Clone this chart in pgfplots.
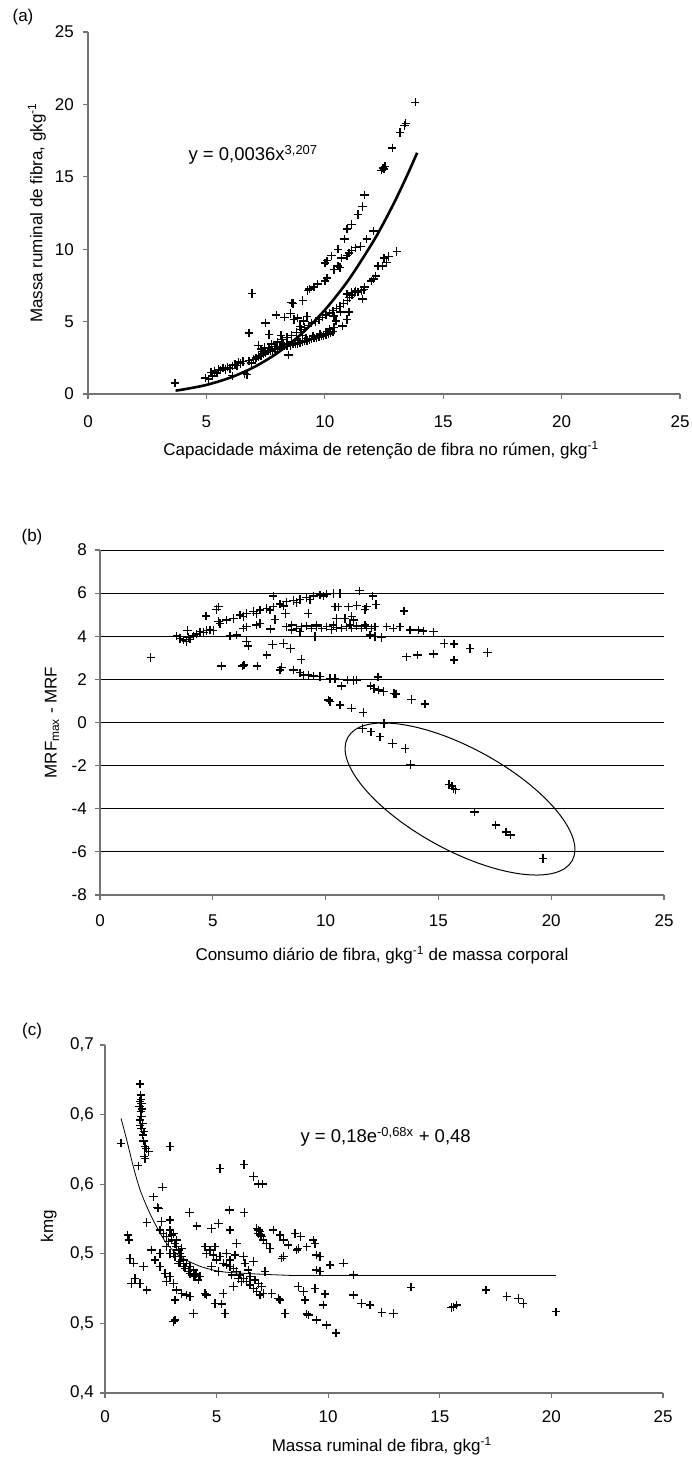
\documentclass[border=0pt]{standalone}
\usepackage{fontspec}
\setmainfont{Liberation Sans}
\usepackage{pgfplots}
\pgfplotsset{compat=1.18}
\newcommand{\tf}{\fontsize{17}{20}\selectfont}
\newcommand{\ef}{\fontsize{18.5}{21}\selectfont}
\begin{document}
\begin{tikzpicture}[x=1pt,y=1pt]
\path[use as bounding box] (0,0) rectangle (691,-1459);
\pgfplotsset{
  panel/.style={
    scale only axis, anchor=south west,
    axis lines*=left,
    axis line style={draw=black!55, line width=1.2pt},
    tick style={draw=black!55, line width=1.2pt},
    tick align=outside, major tick length=5pt,
    xmin=0, xmax=25, xtick={0,5,10,15,20,25},
    xticklabels={0,5,10,15,20,25},
    tick label style={font=\tf},
    label style={font=\tf},
    yticklabel style={anchor=east, inner sep=0pt},
    xticklabel style={anchor=center, inner sep=0pt},
  },
  pts/.style={only marks, mark=+, mark size=4.2pt, black, mark options={line width=1.4pt}},
}
% ---------------- panel (a)
\begin{axis}[panel, at={(88pt,-394pt)}, width=592pt, height=362pt,
  ymin=0, ymax=25, ytick={0,5,10,15,20,25}, yticklabels={0,5,10,15,20,25},
  xticklabel style={yshift=-23pt}, yticklabel style={xshift=-9pt},
  xlabel={Capacidade máxima de retenção de fibra no rúmen, gkg\textsuperscript{-1}},
  ylabel={Massa ruminal de fibra, gkg\textsuperscript{-1}},
  xlabel style={at={(axis description cs:0.495,-0.155)}, anchor=center},
  ylabel style={at={(axis description cs:-0.0861,0.5)}, anchor=center},
]
\addplot[pts] table {
x y
3.67 0.75
4.95 1.10
5.10 1.05
5.25 1.25
5.20 1.50
5.35 1.60
5.45 1.45
5.50 1.70
5.60 1.65
5.70 1.80
5.80 1.70
5.90 1.85
6.00 1.75
6.10 1.95
6.09 1.26
6.20 2.05
6.30 1.95
6.35 2.20
6.45 2.10
6.55 2.25
6.62 1.40
6.72 1.35
6.80 2.30
6.90 2.15
7.00 2.40
7.10 2.50
7.20 2.60
7.30 2.65
7.40 2.75
7.45 3.20
7.50 2.85
7.60 2.95
7.70 3.00
7.80 2.95
7.90 3.10
8.00 3.10
8.10 3.20
8.20 3.25
8.30 3.30
8.40 3.30
8.46 2.69
8.55 3.35
8.65 3.45
8.75 3.45
8.85 3.50
8.95 3.55
9.05 3.60
9.15 3.65
9.25 3.70
9.35 3.75
9.45 3.80
9.55 3.85
9.65 3.90
9.75 3.95
9.85 4.00
9.95 4.05
10.05 4.10
10.15 4.15
10.25 4.20
10.35 4.30
7.35 2.95
7.65 3.15
7.95 3.30
8.25 3.45
8.60 3.60
8.90 3.70
9.20 3.85
9.50 4.00
9.80 4.15
10.10 4.30
7.75 3.45
8.00 3.60
8.20 3.75
8.40 3.90
8.60 4.05
8.80 4.25
9.00 4.45
9.15 4.60
9.30 4.75
9.45 4.90
9.60 5.00
9.75 5.15
9.90 5.30
10.05 5.45
10.20 5.60
10.35 5.75
10.50 5.90
10.65 6.05
10.80 6.25
10.95 6.45
11.05 6.65
11.15 6.85
11.25 7.00
11.40 7.05
11.55 7.15
11.65 7.20
8.85 5.25
8.95 4.65
9.10 5.05
9.25 5.35
8.55 5.55
8.30 5.30
7.95 5.45
7.50 4.90
7.65 4.10
6.80 4.20
6.93 6.95
7.20 3.35
8.15 4.05
8.70 5.15
9.05 4.05
7.30 3.10
8.60 6.30
8.65 6.25
9.07 6.45
9.28 7.15
9.35 7.25
9.54 7.40
9.70 7.60
10.00 7.80
10.10 8.00
10.38 8.60
10.56 8.85
10.65 8.75
10.00 9.05
10.10 9.20
10.28 9.55
10.56 10.00
10.84 10.70
10.94 11.40
11.12 11.70
11.40 12.40
11.59 12.95
11.68 13.75
10.94 9.55
11.03 9.75
11.12 9.90
11.30 10.10
11.50 10.20
11.77 10.70
12.05 11.25
10.70 9.40
10.94 6.90
11.12 7.00
11.30 7.10
11.68 7.40
11.96 7.80
12.05 7.95
12.15 8.15
12.24 8.85
12.43 8.85
12.50 9.40
12.60 9.10
12.70 9.50
13.04 9.85
11.59 6.55
10.66 5.65
10.94 5.15
10.75 4.70
11.03 5.65
10.38 5.40
10.19 4.50
10.47 5.05
10.38 4.60
12.40 15.45
12.45 15.60
12.50 15.55
12.55 15.70
12.85 17.00
13.17 18.05
13.36 18.55
13.42 18.70
13.82 20.15
};
\addplot[black, line width=2.6pt, smooth] coordinates {
(3.70,0.239)(4,0.307)(5,0.628)(6,1.127)(7,1.847)(8,2.834)(9,4.135)(10,5.798)(11,7.872)(12,10.41)(12.5,11.86)(13,13.45)(13.5,15.18)(13.9,16.66)};
\end{axis}
\node[anchor=west, font=\ef] at (185,-155) {y = 0,0036x\textsuperscript{3,207}};
\node[font=\tf] at (23,-17) {(a)};
% ---------------- panel (b)
\begin{axis}[panel, at={(100pt,-895pt)}, width=564pt, height=345pt,
  ymin=-8, ymax=8, ytick={-8,-6,-4,-2,0,2,4,6,8}, yticklabels={-8,-6,-4,-2,0,2,4,6,8},
  ymajorgrids, major grid style={draw=black, line width=1pt},
  xticklabel style={yshift=-21pt}, yticklabel style={xshift=-8pt},
  xlabel={Consumo diário de fibra, gkg\textsuperscript{-1} de massa corporal},
  ylabel={MRF\textsubscript{max} - MRF},
  xlabel style={at={(axis description cs:0.5,-0.174)}, anchor=center},
  ylabel style={at={(axis description cs:-0.085,0.5)}, anchor=center},
]
\addplot[pts] table {
x y
2.25 3.01
3.40 4.01
3.55 3.90
3.69 3.83
3.84 3.75
3.92 3.95
3.99 3.86
4.14 4.01
4.28 4.10
4.43 4.21
4.58 4.17
4.73 4.26
4.88 4.29
5.02 4.26
3.87 4.26
4.70 4.94
5.17 5.25
5.25 5.37
5.25 4.68
5.32 4.60
5.76 4.01
6.06 4.06
5.61 4.75
5.91 4.83
6.21 4.99
6.50 5.06
6.80 5.14
7.09 5.22
7.39 5.29
7.68 5.37
7.98 5.50
8.27 5.60
8.57 5.65
8.87 5.71
9.16 5.80
9.46 5.87
9.75 5.91
10.05 5.96
10.34 5.99
10.64 5.99
7.68 5.87
6.35 4.91
6.94 5.06
7.54 5.22
8.13 5.40
8.72 5.56
9.31 5.71
9.90 5.87
11.50 6.11
12.09 5.87
12.23 5.48
13.47 5.17
10.42 5.37
10.56 5.37
11.01 5.37
11.38 5.42
11.82 5.37
11.75 5.25
10.49 4.83
10.86 4.83
11.23 4.75
11.16 4.91
8.27 4.44
8.50 4.52
8.72 4.37
8.94 4.44
9.16 4.47
9.38 4.37
9.60 4.44
9.83 4.37
10.05 4.44
10.27 4.32
10.49 4.41
10.71 4.37
10.93 4.44
11.16 4.37
11.38 4.47
11.60 4.37
11.82 4.44
12.04 4.37
12.19 4.44
8.50 4.29
9.60 4.52
10.34 4.52
11.08 4.52
11.75 4.52
12.71 4.44
13.00 4.37
13.30 4.44
13.74 4.29
14.11 4.29
14.33 4.24
14.78 4.21
11.97 4.06
12.19 3.98
12.48 3.95
9.53 3.98
6.50 3.75
6.57 3.55
7.64 3.62
8.13 3.67
8.45 3.44
7.39 3.13
6.35 4.37
6.50 4.44
6.94 4.52
7.09 4.60
7.56 4.34
7.76 4.78
8.23 5.06
9.23 5.06
8.87 4.21
13.59 3.05
14.07 3.13
14.78 3.18
15.26 3.67
15.69 3.64
15.69 2.90
16.40 3.44
17.17 3.25
5.39 2.62
6.32 2.62
6.38 2.67
6.97 2.62
7.98 2.43
8.05 2.56
8.92 2.93
8.57 2.43
8.87 2.31
9.01 2.20
9.23 2.20
9.46 2.16
9.75 2.13
10.19 2.05
10.42 2.05
10.71 1.69
10.96 1.97
11.23 1.94
11.38 1.97
12.00 1.69
12.15 1.58
12.34 1.51
12.56 1.43
12.32 2.12
13.03 1.35
13.12 1.32
13.81 1.07
14.41 0.86
10.12 1.04
10.19 0.97
10.64 0.81
11.15 0.66
11.67 0.46
12.59 -0.04
11.63 -0.27
12.01 -0.43
12.41 -0.66
12.97 -0.97
13.53 -1.20
13.77 -1.94
15.47 -2.87
15.60 -2.95
15.66 -3.07
15.76 -3.10
16.60 -4.15
17.54 -4.76
18.00 -5.07
18.20 -5.22
19.63 -6.30
};
\end{axis}
\draw[line width=1pt, rotate around={-28.7:(460,-799)}] (460,-799) ellipse [x radius=128, y radius=51];
\node[font=\tf] at (32,-537) {(b)};
% ---------------- panel (c)
\begin{axis}[panel, at={(105pt,-1393pt)}, width=558pt, height=348pt,
  ymin=0.4, ymax=0.65, ytick={0.4,0.45,0.5,0.55,0.6,0.65},
  yticklabels={{0,4},{0,5},{0,5},{0,6},{0,6},{0,7}},
  xticklabel style={yshift=-19pt}, yticklabel style={xshift=-6pt},
  xlabel={Massa ruminal de fibra, gkg\textsuperscript{-1}},
  ylabel={kmg},
  xlabel style={at={(axis description cs:0.496,-0.152)}, anchor=center},
  ylabel style={at={(axis description cs:-0.101,0.48)}, anchor=center},
]
\addplot[pts] table {
x y
1.57 0.6220
1.60 0.6141
1.57 0.6093
1.64 0.6081
1.54 0.6057
1.60 0.6021
1.64 0.5985
1.57 0.5961
1.69 0.5937
1.64 0.5901
1.75 0.5877
1.69 0.5853
1.79 0.5770
1.94 0.5734
1.79 0.5686
1.49 0.5633
1.62 0.6110
1.66 0.6040
1.58 0.5920
1.72 0.5810
1.85 0.5755
1.76 0.5700
0.72 0.5794
2.91 0.5770
5.15 0.5614
6.23 0.5643
6.65 0.5554
6.87 0.5501
7.06 0.5501
2.58 0.5478
2.17 0.5410
2.39 0.5327
2.36 0.5334
3.78 0.5298
5.57 0.5315
6.24 0.5298
1.87 0.5224
2.54 0.5231
2.91 0.5243
4.11 0.5200
4.78 0.5183
5.08 0.5219
5.60 0.5171
1.02 0.5135
1.08 0.5099
1.12 0.4967
1.27 0.4932
1.72 0.4908
1.34 0.4824
1.19 0.4788
1.57 0.4788
1.87 0.4740
2.46 0.5171
2.61 0.5147
2.76 0.5123
2.91 0.5171
2.99 0.5099
3.06 0.5147
3.14 0.5075
3.21 0.5051
3.29 0.5027
3.36 0.5003
3.44 0.4980
3.51 0.4956
3.66 0.4932
3.81 0.4908
3.96 0.4884
4.11 0.4860
4.26 0.4836
2.76 0.5051
3.06 0.5003
3.29 0.4932
3.51 0.4908
3.81 0.4860
3.96 0.4836
4.18 0.4812
2.46 0.5003
2.09 0.5027
2.24 0.4956
2.46 0.4908
2.69 0.4860
2.91 0.4836
3.06 0.4788
3.21 0.4740
3.44 0.4716
3.66 0.4704
3.81 0.4692
2.76 0.4800
3.14 0.4668
3.14 0.4524
3.06 0.4513
3.96 0.4572
4.55 0.4704
4.93 0.4644
5.23 0.4640
5.38 0.4572
5.30 0.4716
5.75 0.4764
2.91 0.5003
3.14 0.4980
3.36 0.4944
3.59 0.4896
3.73 0.4872
4.03 0.4848
2.99 0.5135
2.84 0.5087
3.21 0.5099
3.44 0.5039
4.48 0.5051
4.70 0.5027
4.85 0.4992
5.00 0.4956
4.93 0.5051
5.15 0.4980
5.30 0.4932
5.45 0.4920
5.60 0.4908
5.75 0.4896
5.90 0.4872
6.05 0.4848
6.20 0.4824
6.35 0.4800
6.50 0.4776
6.65 0.4752
6.80 0.4728
5.45 0.5003
5.60 0.4956
5.82 0.4992
5.90 0.5075
6.20 0.4980
6.27 0.4932
6.42 0.4884
6.50 0.4836
6.72 0.4812
6.87 0.4788
7.02 0.4764
7.09 0.4716
6.94 0.4704
7.17 0.4872
6.65 0.4944
6.12 0.4800
5.98 0.4824
5.68 0.4848
5.08 0.4872
4.78 0.4908
4.55 0.5003
4.48 0.4716
7.47 0.4716
7.77 0.4680
7.84 0.4668
6.80 0.5183
6.87 0.5147
6.94 0.5159
7.02 0.5123
7.09 0.5099
7.24 0.5075
7.39 0.5039
6.87 0.5171
6.97 0.5135
7.54 0.5171
7.84 0.5135
7.99 0.5099
8.21 0.5063
7.99 0.4980
7.92 0.4968
8.51 0.5147
8.77 0.5123
8.59 0.5027
8.66 0.5039
9.04 0.5051
9.33 0.5099
9.41 0.5075
9.48 0.4992
9.63 0.4980
9.48 0.4884
9.63 0.4872
10.08 0.4920
10.68 0.4932
11.13 0.4848
8.66 0.4764
8.89 0.4728
8.96 0.4668
9.41 0.4752
9.86 0.4711
9.78 0.4632
9.11 0.4560
9.04 0.4567
9.48 0.4524
9.93 0.4489
10.35 0.4430
11.13 0.4704
11.50 0.4644
11.87 0.4632
12.40 0.4577
12.92 0.4572
13.71 0.4760
15.53 0.4615
15.61 0.4620
15.76 0.4632
17.07 0.4740
18.00 0.4692
18.52 0.4680
18.74 0.4644
20.21 0.4584
8.06 0.4572
};
\addplot[black, line width=0.8pt, smooth] coordinates {
(0.72,0.5973)(0.97,0.5820)(1.27,0.5626)(1.57,0.5460)(1.94,0.5315)(2.31,0.5195)(2.76,0.5075)(3.36,0.4980)(4.11,0.4920)(4.55,0.4896)(5.30,0.4870)(6.80,0.4855)(8.29,0.4845)};
\addplot[black, line width=0.8pt] coordinates {(8.29,0.4845)(20.20,0.4845)};
\end{axis}
\node[anchor=west, font=\ef] at (297,-1137) {y = 0,18e\textsuperscript{-0,68x} + 0,48};
\node[font=\tf] at (32,-1031) {(c)};
\end{tikzpicture}
\end{document}
